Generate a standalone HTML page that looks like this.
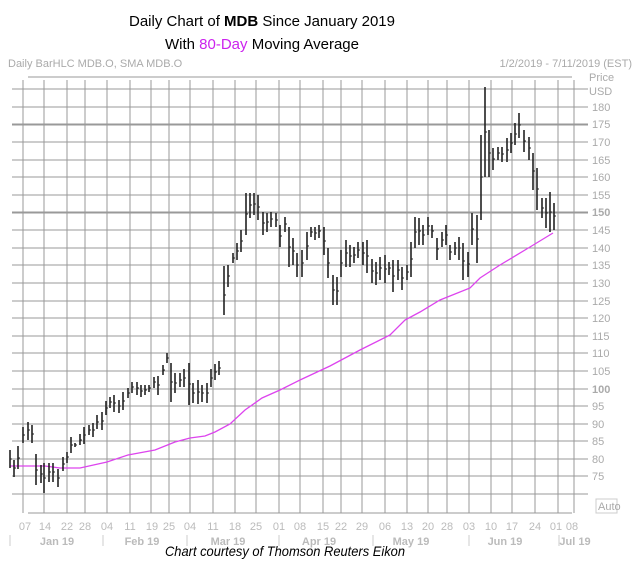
<!DOCTYPE html>
<html><head><style>
body{margin:0;background:#fff;width:638px;height:577px;overflow:hidden}
svg{display:block}
</style></head><body>
<svg width="638" height="577" xmlns="http://www.w3.org/2000/svg" font-family="Liberation Sans, sans-serif">
<text x="262" y="26" font-size="15" text-anchor="middle" fill="#000">Daily Chart of <tspan font-weight="bold">MDB</tspan> Since January 2019</text>
<text x="262" y="49" font-size="15" text-anchor="middle" fill="#000">With <tspan fill="#cc22ee">80-Day</tspan> Moving Average</text>
<text x="8" y="67" font-size="11" fill="#aaa">Daily BarHLC MDB.O, SMA MDB.O</text>
<text x="632" y="67" font-size="11" fill="#aaa" text-anchor="end">1/2/2019 - 7/11/2019 (EST)</text>
<g stroke="#999" stroke-width="1">
<line x1="28" y1="77" x2="572" y2="77"/>
<line x1="28" y1="513" x2="572" y2="513"/>
<path d="M12 89H588M12 107H588M12 142H588M12 160H588M12 177H588M12 195H588M12 230H588M12 248H588M12 265H588M12 283H588M12 301H588M12 318H588M12 336H588M12 353H588M12 371H588M12 389H588M12 406H588M12 424H588M12 441H588M12 459H588M12 476H588M12 494H588"/>
<path d="M23 80V513M44 80V513M67 80V513M85 80V513M107 80V513M130 80V513M151 80V513M169 80V513M190 80V513M213 80V513M235 80V513M256 80V513M279 80V513M300 80V513M323 80V513M341 80V513M362 80V513M385 80V513M407 80V513M428 80V513M447 80V513M469 80V513M491 80V513M512 80V513M535 80V513M558 80V513M574 80V513"/>
</g>
<path d="M12 124.5H588M12 212.5H588" stroke="#999" stroke-width="2"/>
<g font-size="11" fill="#aaa">
<text x="589" y="81">Price</text><text x="589" y="95">USD</text>
<text x="592" y="111">180</text><text x="592" y="128">175</text><text x="592" y="146">170</text><text x="592" y="164">165</text><text x="592" y="181">160</text><text x="592" y="199">155</text><text x="592" y="216" font-weight="bold">150</text><text x="592" y="234">145</text><text x="592" y="252">140</text><text x="592" y="269">135</text><text x="592" y="287">130</text><text x="592" y="305">125</text><text x="592" y="322">120</text><text x="592" y="340">115</text><text x="592" y="357">110</text><text x="592" y="375">105</text><text x="592" y="393" font-weight="bold">100</text><text x="592" y="410">95</text><text x="592" y="428">90</text><text x="592" y="445">85</text><text x="592" y="463">80</text><text x="592" y="480">75</text>
</g>
<rect x="596" y="499" width="21" height="14" fill="none" stroke="#ccc"/>
<text x="598" y="510" font-size="11" fill="#aaa">Auto</text>
<g font-size="11" fill="#bbb" text-anchor="middle">
<text x="25" y="530">07</text><text x="45" y="530">14</text><text x="67" y="530">22</text><text x="85" y="530">28</text><text x="107" y="530">04</text><text x="130" y="530">11</text><text x="152" y="530">19</text><text x="169" y="530">25</text><text x="190" y="530">04</text><text x="213" y="530">11</text><text x="235" y="530">18</text><text x="256" y="530">25</text><text x="279" y="530">01</text><text x="300" y="530">08</text><text x="323" y="530">15</text><text x="341" y="530">22</text><text x="362" y="530">29</text><text x="385" y="530">06</text><text x="407" y="530">13</text><text x="428" y="530">20</text><text x="447" y="530">28</text><text x="469" y="530">03</text><text x="491" y="530">10</text><text x="512" y="530">17</text><text x="535" y="530">24</text><text x="556" y="530">01</text><text x="572" y="530">08</text>
<g font-weight="bold"><text x="57" y="545">Jan 19</text><text x="142" y="545">Feb 19</text><text x="228" y="545">Mar 19</text><text x="319" y="545">Apr 19</text><text x="411" y="545">May 19</text><text x="505" y="545">Jun 19</text><text x="575" y="545">Jul 19</text></g>
</g>
<path d="M10 535V546M103 535V546M187 535V546M279 535V546M373 535V546M469 535V546M559 535V546" stroke="#ccc"/>
<polyline fill="none" stroke="#dd44ee" stroke-width="1.3" points="10,466 45,466 60,468 80,468 107,462 128,455 155,450 175,442 190,438 205,436 215,432 230,424 245,410 262,398 280,390 300,380 330,366 360,350 390,335 405,320 420,312 440,300 470,288 480,278 500,265 530,247 553,233"/>
<path fill="none" stroke="#222" stroke-width="1.6" d="M10 450V468M14 460V477M18 446V469M23 427V443M28 422V440M32 425V443M36 454V485M41 465V483M44 463V493M49 463V482M53 463V482M58 469V487M63 457V471M67 452V463M71 437V453M75 443V447M80 434V445M84 427V444M89 425V435M93 423V437M97 415V429M102 412V430M106 401V415M110 397V408M114 395V412M119 400V413M123 392V410M128 388V398M132 382V393M137 382V395M141 385V397M145 385V395M149 385V392M154 377V388M158 376V395M163 365V375M167 353V363M171 363V402M175 373V393M180 373V387M184 369V387M189 363V405M193 383V403M198 380V404M202 385V402M207 383V403M211 369V387M215 364V380M219 361V375M224 266V315M228 265V287M233 253V263M237 243V260M241 230V252M246 193V235M250 193V218M254 193V215M258 195V220M263 212V235M267 213V232M271 212V227M276 213V227M280 225V247M285 217V232M289 227V267M293 238V265M297 253V277M302 250V277M307 232V260M311 227V237M315 227V240M319 225V238M324 227V255M328 248V278M333 275V305M337 277V305M341 250V277M346 240V267M350 245V267M354 247V263M358 242V258M363 242V265M367 240V273M372 259V283M376 262V285M380 257V280M385 255V283M389 262V275M393 260V292M398 260V280M402 267V290M407 265V280M411 242V277M415 217V248M419 218V245M423 225V245M428 217V235M432 225V238M437 238V260M442 232V247M446 225V245M450 245V260M455 242V255M459 237V260M463 243V280M468 252V277M472 213V245M477 215V263M481 135V220M485 87V177M489 130V177M493 148V170M498 147V160M502 147V162M507 138V162M511 133V153M515 123V145M519 113V138M524 130V152M529 137V160M533 153V190M537 168V210M542 198V218M546 198V228M550 192V232M554 203V230"/>
<path fill="none" stroke="#222" stroke-width="1" d="M10 459h2M14 468h2M18 458h2M23 435h2M28 430h2M32 434h2M36 470h2M41 474h2M44 478h2M49 472h2M53 472h2M58 478h2M63 464h2M67 457h2M71 445h2M75 445h2M80 440h2M84 435h2M89 430h2M93 430h2M97 422h2M102 421h2M106 408h2M110 402h2M114 403h2M119 406h2M123 401h2M128 393h2M132 387h2M137 388h2M141 391h2M145 390h2M149 388h2M154 382h2M158 385h2M163 370h2M167 358h2M171 382h2M175 383h2M180 380h2M184 378h2M189 384h2M193 393h2M198 392h2M202 393h2M207 393h2M211 378h2M215 372h2M219 368h2M224 295h2M228 276h2M233 258h2M237 251h2M241 241h2M246 214h2M250 205h2M254 204h2M258 207h2M263 223h2M267 222h2M271 219h2M276 220h2M280 236h2M285 224h2M289 247h2M293 251h2M297 265h2M302 263h2M307 246h2M311 232h2M315 233h2M319 231h2M324 241h2M328 263h2M333 290h2M337 291h2M341 263h2M346 253h2M350 256h2M354 255h2M358 250h2M363 253h2M367 256h2M372 271h2M376 273h2M380 268h2M385 269h2M389 268h2M393 276h2M398 270h2M402 278h2M407 272h2M411 259h2M415 232h2M419 231h2M423 235h2M428 226h2M432 231h2M437 249h2M442 240h2M446 235h2M450 252h2M455 248h2M459 248h2M463 261h2M468 264h2M472 229h2M477 239h2M481 177h2M485 132h2M489 153h2M493 159h2M498 153h2M502 154h2M507 150h2M511 143h2M515 134h2M519 125h2M524 141h2M529 148h2M533 171h2M537 189h2M542 208h2M546 213h2M550 212h2M554 216h2"/>
<text x="165" y="556" font-size="14" font-style="italic" fill="#000" textLength="240" lengthAdjust="spacingAndGlyphs">Chart courtesy of Thomson Reuters Eikon</text>
</svg>
</body></html>
